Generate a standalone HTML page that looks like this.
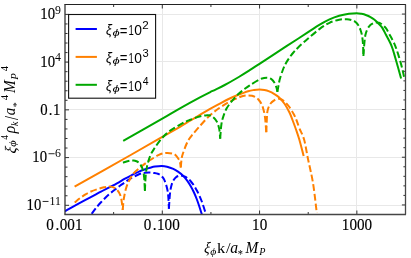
<!DOCTYPE html>
<html><head><meta charset="utf-8"><style>
html,body{margin:0;padding:0;background:#fff;}
body{width:411px;height:258px;overflow:hidden;position:relative;font-family:"Liberation Sans",sans-serif;}
</style></head><body>
<svg width="411" height="258" viewBox="0 0 411 258" style="position:absolute;left:0;top:0;will-change:transform">
<rect x="0" y="0" width="411" height="258" fill="#fff"/>
<line x1="65.0" x2="405.5" y1="14.5" y2="14.5" stroke="#e8e8e8" stroke-width="1"/>
<line x1="65.0" x2="405.5" y1="61.5" y2="61.5" stroke="#e8e8e8" stroke-width="1"/>
<line x1="65.0" x2="405.5" y1="109.5" y2="109.5" stroke="#e8e8e8" stroke-width="1"/>
<line x1="65.0" x2="405.5" y1="157.5" y2="157.5" stroke="#e8e8e8" stroke-width="1"/>
<line x1="65.0" x2="405.5" y1="205.5" y2="205.5" stroke="#e8e8e8" stroke-width="1"/>
<line y1="4.5" y2="214.5" x1="162.5" x2="162.5" stroke="#e8e8e8" stroke-width="1"/>
<line y1="4.5" y2="214.5" x1="259.5" x2="259.5" stroke="#e8e8e8" stroke-width="1"/>
<line y1="4.5" y2="214.5" x1="356.5" x2="356.5" stroke="#e8e8e8" stroke-width="1"/>
<clipPath id="c"><rect x="65.0" y="4.5" width="340.5" height="210.0"/></clipPath>
<g clip-path="url(#c)" fill="none" stroke-width="2" stroke-linejoin="round">
<path d="M91.70,213.80 C92.42,212.83 94.45,209.92 96.00,208.00 C97.55,206.08 98.87,204.53 101.00,202.30 C103.13,200.07 106.22,196.92 108.80,194.60 C111.38,192.28 114.63,189.87 116.50,188.40 C118.37,186.93 118.70,186.73 120.00,185.80 C121.30,184.87 122.68,183.93 124.30,182.80 C125.92,181.67 127.17,180.47 129.70,179.00 C132.23,177.53 136.95,175.03 139.50,174.00 C142.05,172.97 143.25,173.03 145.00,172.80 C146.75,172.57 148.50,172.57 150.00,172.60 C151.50,172.63 152.70,172.80 154.00,173.00 C155.30,173.20 156.63,173.37 157.80,173.80 C158.97,174.23 160.03,174.80 161.00,175.60 C161.97,176.40 162.82,177.28 163.60,178.60 C164.38,179.92 165.05,181.55 165.70,183.50 C166.35,185.45 167.05,187.88 167.50,190.30 C167.95,192.72 168.17,194.92 168.40,198.00 C168.63,201.08 168.82,207.00 168.90,208.80" stroke="#0000ff" stroke-dasharray="6.7 2.9"/>
<path d="M168.90,208.80 C169.02,207.00 169.35,201.08 169.60,198.00 C169.85,194.92 170.05,192.55 170.40,190.30 C170.75,188.05 171.22,186.12 171.70,184.50 C172.18,182.88 172.58,181.82 173.30,180.60 C174.02,179.38 175.02,178.02 176.00,177.20 C176.98,176.38 178.20,175.95 179.20,175.70 C180.20,175.45 181.03,175.53 182.00,175.70 C182.97,175.87 184.00,176.20 185.00,176.70 C186.00,177.20 187.02,177.90 188.00,178.70 C188.98,179.50 189.90,180.35 190.90,181.50 C191.90,182.65 193.03,184.13 194.00,185.60 C194.97,187.07 195.82,188.65 196.70,190.30 C197.58,191.95 198.48,193.72 199.30,195.50 C200.12,197.28 200.88,199.12 201.60,201.00 C202.32,202.88 202.93,204.80 203.60,206.80 C204.27,208.80 205.27,211.97 205.60,213.00" stroke="#0000ff" stroke-dasharray="6.7 2.9"/>
<path d="M64.90,211.30 C65.75,210.80 66.57,210.22 70.00,208.30 C73.43,206.38 80.33,202.57 85.50,199.80 C90.67,197.03 95.83,194.40 101.00,191.70 C106.17,189.00 112.50,185.78 116.50,183.60 C120.50,181.42 122.22,180.13 125.00,178.60 C127.78,177.07 130.78,175.62 133.20,174.40 C135.62,173.18 137.47,172.17 139.50,171.30 C141.53,170.43 143.65,169.78 145.40,169.20 C147.15,168.62 148.40,168.23 150.00,167.80 C151.60,167.37 153.05,166.90 155.00,166.60 C156.95,166.30 159.70,165.98 161.70,166.00 C163.70,166.02 165.07,166.22 167.00,166.70 C168.93,167.18 171.47,168.08 173.30,168.90 C175.13,169.72 176.37,170.47 178.00,171.60 C179.63,172.73 181.60,174.25 183.10,175.70 C184.60,177.15 185.70,178.52 187.00,180.30 C188.30,182.08 189.73,184.37 190.90,186.40 C192.07,188.43 193.03,190.40 194.00,192.50 C194.97,194.60 195.87,196.83 196.70,199.00 C197.53,201.17 198.15,202.95 199.00,205.50 C199.85,208.05 201.33,212.83 201.80,214.30" stroke="#0000ff"/>
<path d="M74.65,202.60 C75.54,201.87 78.19,199.57 80.00,198.20 C81.81,196.83 83.67,195.52 85.50,194.40 C87.33,193.28 88.93,192.40 91.00,191.50 C93.07,190.60 95.73,189.70 97.90,189.00 C100.07,188.30 102.18,187.70 104.00,187.30 C105.82,186.90 107.47,186.67 108.80,186.60 C110.13,186.53 110.97,186.63 112.00,186.90 C113.03,187.17 114.08,187.63 115.00,188.20 C115.92,188.77 116.73,189.40 117.50,190.30 C118.27,191.20 119.02,192.40 119.60,193.60 C120.18,194.80 120.62,195.95 121.00,197.50 C121.38,199.05 121.62,200.83 121.90,202.90 C122.18,204.97 122.57,208.73 122.70,209.90" stroke="#ff8000" stroke-dasharray="6.7 2.9"/>
<path d="M122.70,209.90 C122.83,208.42 123.20,203.48 123.50,201.00 C123.80,198.52 124.08,197.08 124.50,195.00 C124.92,192.92 125.45,190.42 126.00,188.50 C126.55,186.58 127.13,185.05 127.80,183.50 C128.47,181.95 129.03,180.90 130.00,179.20 C130.97,177.50 131.70,175.42 133.60,173.30 C135.50,171.18 138.80,168.60 141.40,166.50 C144.00,164.40 146.28,162.63 149.20,160.70 C152.12,158.77 155.98,156.20 158.90,154.90 C161.82,153.60 164.10,153.00 166.70,152.90 C169.30,152.80 172.55,153.32 174.50,154.30 C176.45,155.28 177.48,157.43 178.40,158.80 C179.32,160.17 179.60,161.05 180.00,162.50 C180.40,163.95 180.67,166.67 180.80,167.50" stroke="#ff8000" stroke-dasharray="6.7 2.9"/>
<path d="M180.80,167.50 C180.93,166.08 181.25,161.33 181.60,159.00 C181.95,156.67 182.08,156.00 182.90,153.50 C183.72,151.00 185.40,146.50 186.50,144.00 C187.60,141.50 188.48,140.08 189.50,138.50 C190.52,136.92 190.93,136.50 192.60,134.50 C194.27,132.50 196.73,129.57 199.50,126.50 C202.27,123.43 205.97,119.13 209.20,116.10 C212.43,113.07 215.67,110.60 218.90,108.30 C222.13,106.00 225.35,104.07 228.60,102.30 C231.85,100.53 236.00,98.75 238.40,97.70 C240.80,96.65 241.43,96.38 243.00,96.00 C244.57,95.62 246.30,95.43 247.80,95.40 C249.30,95.37 250.70,95.50 252.00,95.80 C253.30,96.10 254.57,96.63 255.60,97.20 C256.63,97.77 257.40,98.38 258.20,99.20 C259.00,100.02 259.77,101.13 260.40,102.10 C261.03,103.07 261.52,103.87 262.00,105.00 C262.48,106.13 262.88,107.40 263.30,108.90 C263.72,110.40 264.17,112.15 264.50,114.00 C264.83,115.85 265.00,116.95 265.30,120.00 C265.60,123.05 266.13,130.25 266.30,132.30" stroke="#ff8000" stroke-dasharray="6.7 2.9"/>
<path d="M266.30,132.30 C266.38,130.25 266.65,123.25 266.80,120.00 C266.95,116.75 267.00,114.63 267.20,112.80 C267.40,110.97 267.67,110.13 268.00,109.00 C268.33,107.87 268.70,107.00 269.20,106.00 C269.70,105.00 270.35,103.82 271.00,103.00 C271.65,102.18 272.27,101.70 273.10,101.10 C273.93,100.50 275.03,99.78 276.00,99.40 C276.97,99.02 277.98,98.78 278.90,98.80 C279.82,98.82 280.68,99.12 281.50,99.50 C282.32,99.88 282.62,100.02 283.80,101.10 C284.98,102.18 286.98,103.88 288.60,106.00 C290.22,108.12 292.20,111.47 293.50,113.80 C294.80,116.13 295.40,117.55 296.40,120.00 C297.40,122.45 298.22,125.25 299.50,128.50 C300.78,131.75 302.68,134.42 304.10,139.50 C305.52,144.58 306.52,151.75 308.00,159.00 C309.48,166.25 311.53,174.00 313.00,183.00 C314.47,192.00 316.17,208.00 316.80,213.00" stroke="#ff8000" stroke-dasharray="6.7 2.9"/>
<path d="M74.60,186.70 C83.95,181.42 116.30,163.17 130.70,155.00 C145.10,146.83 152.78,142.40 161.00,137.70 C169.22,133.00 175.22,129.58 180.00,126.80 C184.78,124.02 186.45,122.93 189.70,121.00 C192.95,119.07 196.25,117.13 199.50,115.20 C202.75,113.27 205.97,111.25 209.20,109.40 C212.43,107.55 215.67,105.83 218.90,104.10 C222.13,102.37 225.35,100.55 228.60,99.00 C231.85,97.45 235.15,96.10 238.40,94.80 C241.65,93.50 245.50,92.00 248.10,91.20 C250.70,90.40 252.10,90.28 254.00,90.00 C255.90,89.72 257.75,89.50 259.50,89.50 C261.25,89.50 262.88,89.68 264.50,90.00 C266.12,90.32 267.62,90.77 269.20,91.40 C270.78,92.03 272.38,92.83 274.00,93.80 C275.62,94.77 277.12,95.50 278.90,97.20 C280.68,98.90 282.92,101.40 284.70,104.00 C286.48,106.60 288.30,110.13 289.60,112.80 C290.90,115.47 291.43,117.22 292.50,120.00 C293.57,122.78 294.87,126.25 296.00,129.50 C297.13,132.75 298.02,135.07 299.30,139.50 C300.58,143.93 302.97,153.33 303.70,156.10" stroke="#ff8000"/>
<path d="M122.90,162.60 C124.03,162.28 127.93,161.03 129.70,160.70 C131.47,160.37 132.37,160.50 133.50,160.60 C134.63,160.70 135.63,160.97 136.50,161.30 C137.37,161.63 138.05,162.05 138.70,162.60 C139.35,163.15 139.85,163.78 140.40,164.60 C140.95,165.42 141.52,166.37 142.00,167.50 C142.48,168.63 142.93,169.65 143.30,171.40 C143.67,173.15 143.93,174.73 144.20,178.00 C144.47,181.27 144.78,188.83 144.90,191.00" stroke="#00a800" stroke-dasharray="6.7 2.9"/>
<path d="M144.90,191.00 C145.03,188.38 145.32,179.53 145.70,175.30 C146.08,171.07 146.45,168.85 147.20,165.60 C147.95,162.35 149.07,158.57 150.20,155.80 C151.33,153.03 152.07,151.92 154.00,149.00 C155.93,146.08 159.03,141.40 161.80,138.30 C164.57,135.20 167.18,132.88 170.60,130.40 C174.02,127.92 179.12,125.13 182.30,123.40 C185.48,121.67 186.83,121.15 189.70,120.00 C192.57,118.85 196.58,117.30 199.50,116.50 C202.42,115.70 205.37,115.35 207.20,115.20 C209.03,115.05 209.52,115.28 210.50,115.60 C211.48,115.92 212.30,116.48 213.10,117.10 C213.90,117.72 214.65,118.48 215.30,119.30 C215.95,120.12 216.47,120.88 217.00,122.00 C217.53,123.12 218.08,124.55 218.50,126.00 C218.92,127.45 219.22,128.58 219.50,130.70 C219.78,132.82 220.08,137.37 220.20,138.70" stroke="#00a800" stroke-dasharray="6.7 2.9"/>
<path d="M220.20,138.70 C220.37,136.57 220.77,129.33 221.20,125.90 C221.63,122.47 221.88,121.03 222.80,118.10 C223.72,115.17 225.08,111.25 226.70,108.30 C228.32,105.35 230.55,102.78 232.50,100.40 C234.45,98.02 236.48,95.82 238.40,94.00 C240.32,92.18 242.12,90.95 244.00,89.50 C245.88,88.05 247.12,86.97 249.70,85.30 C252.28,83.63 257.12,80.70 259.50,79.50 C261.88,78.30 262.72,78.38 264.00,78.10 C265.28,77.82 266.20,77.75 267.20,77.80 C268.20,77.85 269.18,78.08 270.00,78.40 C270.82,78.72 271.43,79.10 272.10,79.70 C272.77,80.30 273.43,81.12 274.00,82.00 C274.57,82.88 275.07,84.00 275.50,85.00 C275.93,86.00 276.28,86.87 276.60,88.00 C276.92,89.13 277.27,91.17 277.40,91.80" stroke="#00a800" stroke-dasharray="6.7 2.9"/>
<path d="M277.40,91.80 C277.58,90.77 278.08,87.77 278.50,85.60 C278.92,83.43 279.18,81.40 279.90,78.80 C280.62,76.20 281.87,72.47 282.80,70.00 C283.73,67.53 284.53,65.85 285.50,64.00 C286.47,62.15 287.35,60.73 288.60,58.90 C289.85,57.07 291.37,54.95 293.00,53.00 C294.63,51.05 295.88,49.62 298.40,47.20 C300.92,44.78 304.55,41.55 308.10,38.50 C311.65,35.45 316.13,31.52 319.70,28.90 C323.27,26.28 326.25,24.33 329.50,22.80 C332.75,21.27 336.28,20.30 339.20,19.70 C342.12,19.10 344.73,19.07 347.00,19.20 C349.27,19.33 351.38,20.03 352.80,20.50 C354.22,20.97 354.68,21.37 355.50,22.00 C356.32,22.63 357.07,23.47 357.70,24.30 C358.33,25.13 358.82,26.02 359.30,27.00 C359.78,27.98 360.20,29.03 360.60,30.20 C361.00,31.37 361.38,32.55 361.70,34.00 C362.02,35.45 362.27,36.90 362.50,38.90 C362.73,40.90 362.95,43.15 363.10,46.00 C363.25,48.85 363.35,54.33 363.40,56.00" stroke="#00a800" stroke-dasharray="6.7 2.9"/>
<path d="M363.40,56.00 C363.53,54.17 363.87,48.50 364.20,45.00 C364.53,41.50 364.87,37.63 365.40,35.00 C365.93,32.37 366.77,30.65 367.40,29.20 C368.03,27.75 368.55,27.12 369.20,26.30 C369.85,25.48 370.57,24.85 371.30,24.30 C372.03,23.75 372.80,23.32 373.60,23.00 C374.40,22.68 375.27,22.45 376.10,22.40 C376.93,22.35 377.78,22.48 378.60,22.70 C379.42,22.92 379.78,22.78 381.00,23.70 C382.22,24.62 384.48,26.40 385.90,28.20 C387.32,30.00 388.10,31.92 389.50,34.50 C390.90,37.08 392.85,40.38 394.30,43.70 C395.75,47.02 396.90,50.35 398.20,54.40 C399.50,58.45 401.03,63.82 402.10,68.00 C403.17,72.18 404.18,77.58 404.60,79.50" stroke="#00a800" stroke-dasharray="6.7 2.9"/>
<path d="M123.20,140.90 C129.50,137.32 151.53,124.83 161.00,119.40 C170.47,113.97 173.58,111.93 180.00,108.30 C186.42,104.67 194.17,100.45 199.50,97.60 C204.83,94.75 207.80,93.30 212.00,91.20 C216.20,89.10 220.23,87.37 224.70,85.00 C229.17,82.63 234.63,79.47 238.80,77.00 C242.97,74.53 246.25,72.40 249.70,70.20 C253.15,68.00 254.63,66.98 259.50,63.80 C264.37,60.62 272.42,55.32 278.90,51.10 C285.38,46.88 293.22,41.87 298.40,38.50 C303.58,35.13 306.45,33.20 310.00,30.90 C313.55,28.60 316.45,26.62 319.70,24.70 C322.95,22.78 326.25,20.88 329.50,19.40 C332.75,17.92 335.97,16.73 339.20,15.80 C342.43,14.87 345.98,14.23 348.90,13.80 C351.82,13.37 354.60,13.20 356.70,13.20 C358.80,13.20 359.88,13.47 361.50,13.80 C363.12,14.13 364.90,14.65 366.40,15.20 C367.90,15.75 369.20,16.38 370.50,17.10 C371.80,17.82 372.95,18.52 374.20,19.50 C375.45,20.48 376.70,21.68 378.00,23.00 C379.30,24.32 380.67,25.43 382.00,27.40 C383.33,29.37 384.62,32.20 386.00,34.80 C387.38,37.40 389.22,40.72 390.30,43.00 C391.38,45.28 391.83,46.60 392.50,48.50 C393.17,50.40 393.35,51.15 394.30,54.40 C395.25,57.65 397.07,63.97 398.20,68.00 C399.33,72.03 400.62,76.83 401.10,78.60" stroke="#00a800"/>
</g>
<path d="M65.0,205.30h4 M405.5,204.95h-3.6 M65.0,195.76h2.5 M405.5,195.41h-2.1 M65.0,186.21h2.5 M405.5,185.86h-2.1 M65.0,176.67h2.5 M405.5,176.32h-2.1 M65.0,167.12h2.5 M405.5,166.77h-2.1 M65.0,157.58h4 M405.5,157.23h-3.6 M65.0,148.03h2.5 M405.5,147.68h-2.1 M65.0,138.49h2.5 M405.5,138.14h-2.1 M65.0,128.94h2.5 M405.5,128.59h-2.1 M65.0,119.40h2.5 M405.5,119.05h-2.1 M65.0,109.85h4 M405.5,109.50h-3.6 M65.0,100.30h2.5 M405.5,99.95h-2.1 M65.0,90.76h2.5 M405.5,90.41h-2.1 M65.0,81.21h2.5 M405.5,80.86h-2.1 M65.0,71.67h2.5 M405.5,71.32h-2.1 M65.0,62.12h4 M405.5,61.77h-3.6 M65.0,52.58h2.5 M405.5,52.23h-2.1 M65.0,43.03h2.5 M405.5,42.68h-2.1 M65.0,33.49h2.5 M405.5,33.14h-2.1 M65.0,23.94h2.5 M405.5,23.59h-2.1 M65.0,14.40h4 M405.5,14.05h-3.6 M113.64,214.5v-2.5 M113.64,4.5v2.5 M162.29,214.5v-4 M162.29,4.5v4 M210.93,214.5v-2.5 M210.93,4.5v2.5 M259.57,214.5v-4 M259.57,4.5v4 M308.21,214.5v-2.5 M308.21,4.5v2.5 M356.86,214.5v-4 M356.86,4.5v4" stroke="#333" stroke-width="1" fill="none"/>
<path d="M64.4,4.5H406.0" stroke="#222" stroke-width="1.1" fill="none"/>
<path d="M64.4,214.5H406.0" stroke="#464646" stroke-width="1.3" fill="none"/>
<path d="M405.5,4.5V214.5" stroke="#464646" stroke-width="1.3" fill="none"/>
<path d="M65.0,4.5V214.5" stroke="#333" stroke-width="1.3" fill="none"/>
<rect x="68.6" y="14.5" width="87.0" height="83.7" fill="#fff" stroke="#111" stroke-width="1.1"/>
<line x1="75.6" x2="96.9" y1="29.0" y2="29.0" stroke="#0000ff" stroke-width="2"/>
<g transform="translate(105.95,34.70) scale(0.924,1)"><text x="0" y="0" font-family="Liberation Sans, sans-serif" font-size="14.2" font-style="italic" fill="#000">ξ</text></g>
<g transform="translate(112.58,36.20) scale(1.415,1)"><text x="0" y="0" font-family="Liberation Sans, sans-serif" font-size="9.2" font-style="italic" fill="#000">ϕ</text></g>
<g transform="translate(119.86,35.50) scale(0.955,1)"><text x="0" y="0" font-family="Liberation Sans, sans-serif" font-size="13.8" fill="#000">=</text></g>
<g transform="translate(128.48,34.70) scale(0.689,1)"><text x="0" y="0" font-family="Liberation Sans, sans-serif" font-size="13.8" fill="#000">1</text></g>
<g transform="translate(134.26,34.70) scale(1.000,1)"><text x="0" y="0" font-family="Liberation Sans, sans-serif" font-size="13.8" fill="#000">0</text></g>
<g transform="translate(142.31,29.20) scale(1.130,1)"><text x="0" y="0" font-family="Liberation Sans, sans-serif" font-size="10.3" fill="#000">2</text></g>
<line x1="75.6" x2="96.9" y1="56.9" y2="56.9" stroke="#ff8000" stroke-width="2"/>
<g transform="translate(105.95,62.60) scale(0.924,1)"><text x="0" y="0" font-family="Liberation Sans, sans-serif" font-size="14.2" font-style="italic" fill="#000">ξ</text></g>
<g transform="translate(112.58,64.10) scale(1.415,1)"><text x="0" y="0" font-family="Liberation Sans, sans-serif" font-size="9.2" font-style="italic" fill="#000">ϕ</text></g>
<g transform="translate(119.86,63.40) scale(0.955,1)"><text x="0" y="0" font-family="Liberation Sans, sans-serif" font-size="13.8" fill="#000">=</text></g>
<g transform="translate(128.48,62.60) scale(0.689,1)"><text x="0" y="0" font-family="Liberation Sans, sans-serif" font-size="13.8" fill="#000">1</text></g>
<g transform="translate(134.26,62.60) scale(1.000,1)"><text x="0" y="0" font-family="Liberation Sans, sans-serif" font-size="13.8" fill="#000">0</text></g>
<g transform="translate(142.47,57.10) scale(1.085,1)"><text x="0" y="0" font-family="Liberation Sans, sans-serif" font-size="10.3" fill="#000">3</text></g>
<line x1="75.6" x2="96.9" y1="84.8" y2="84.8" stroke="#00a800" stroke-width="2"/>
<g transform="translate(105.95,90.50) scale(0.924,1)"><text x="0" y="0" font-family="Liberation Sans, sans-serif" font-size="14.2" font-style="italic" fill="#000">ξ</text></g>
<g transform="translate(112.58,92.00) scale(1.415,1)"><text x="0" y="0" font-family="Liberation Sans, sans-serif" font-size="9.2" font-style="italic" fill="#000">ϕ</text></g>
<g transform="translate(119.86,91.30) scale(0.955,1)"><text x="0" y="0" font-family="Liberation Sans, sans-serif" font-size="13.8" fill="#000">=</text></g>
<g transform="translate(128.48,90.50) scale(0.689,1)"><text x="0" y="0" font-family="Liberation Sans, sans-serif" font-size="13.8" fill="#000">1</text></g>
<g transform="translate(134.26,90.50) scale(1.000,1)"><text x="0" y="0" font-family="Liberation Sans, sans-serif" font-size="13.8" fill="#000">0</text></g>
<g transform="translate(142.66,85.00) scale(1.021,1)"><text x="0" y="0" font-family="Liberation Sans, sans-serif" font-size="10.3" fill="#000">4</text></g>
<g transform="translate(55.10,19.15) scale(0.94,1)"><text x="0" y="0" text-anchor="end" font-family="Liberation Serif, serif" font-size="15.7" fill="#000" stroke="#000" stroke-width="0.15">10</text></g>
<g transform="translate(61.0,13.75) scale(0.97,1)"><text x="0" y="0" text-anchor="end" font-family="Liberation Serif, serif" font-size="12.2" fill="#000">9</text></g>
<g transform="translate(55.10,66.87) scale(0.94,1)"><text x="0" y="0" text-anchor="end" font-family="Liberation Serif, serif" font-size="15.7" fill="#000" stroke="#000" stroke-width="0.15">10</text></g>
<g transform="translate(61.0,61.47) scale(0.97,1)"><text x="0" y="0" text-anchor="end" font-family="Liberation Serif, serif" font-size="12.2" fill="#000">4</text></g>
<g transform="translate(60.3,114.60) scale(0.94,1)"><text x="0" y="0" text-anchor="end" font-family="Liberation Serif, serif" font-size="15.7" fill="#000" stroke="#000" stroke-width="0.15">0<tspan dx="1.2">.</tspan><tspan dx="0.6">1</tspan></text></g>
<g transform="translate(47.10,162.33) scale(0.94,1)"><text x="0" y="0" text-anchor="end" font-family="Liberation Serif, serif" font-size="15.7" fill="#000" stroke="#000" stroke-width="0.15">10</text></g>
<g transform="translate(61.0,156.93) scale(0.97,1)"><text x="0" y="0" text-anchor="end" font-family="Liberation Serif, serif" font-size="12.2" fill="#000">6</text></g>
<line x1="48.5" x2="54.6" y1="153.73" y2="153.73" stroke="#111" stroke-width="0.9"/>
<g transform="translate(41.30,210.05) scale(0.94,1)"><text x="0" y="0" text-anchor="end" font-family="Liberation Serif, serif" font-size="15.7" fill="#000" stroke="#000" stroke-width="0.15">10</text></g>
<g transform="translate(61.0,204.65) scale(0.97,1)"><text x="0" y="0" text-anchor="end" font-family="Liberation Serif, serif" font-size="12.2" fill="#000">11</text></g>
<line x1="42.6" x2="48.5" y1="201.45" y2="201.45" stroke="#111" stroke-width="0.9"/>
<g transform="translate(64.40,229.8) scale(0.965,1)"><text x="0" y="0" text-anchor="middle" font-family="Liberation Serif, serif" font-size="15.7" fill="#000" stroke="#000" stroke-width="0.15">0<tspan dx="1.6">.</tspan><tspan dx="0.5">001</tspan></text></g>
<g transform="translate(161.69,229.8) scale(0.965,1)"><text x="0" y="0" text-anchor="middle" font-family="Liberation Serif, serif" font-size="15.7" fill="#000" stroke="#000" stroke-width="0.15">0<tspan dx="1.6">.</tspan><tspan dx="0.5">100</tspan></text></g>
<g transform="translate(259.67,229.8) scale(0.965,1)"><text x="0" y="0" text-anchor="middle" font-family="Liberation Serif, serif" font-size="15.7" fill="#000" stroke="#000" stroke-width="0.15">10</text></g>
<g transform="translate(356.96,229.8) scale(0.965,1)"><text x="0" y="0" text-anchor="middle" font-family="Liberation Serif, serif" font-size="15.7" fill="#000" stroke="#000" stroke-width="0.15">1000</text></g>
<g transform="translate(203.84,253.20) scale(0.842,1) skewX(-9)"><text x="0" y="0" font-family="Liberation Serif, serif" font-size="16" font-style="italic" fill="#000">ξ</text></g>
<g transform="translate(210.23,255.20) scale(1.101,1)"><text x="0" y="0" font-family="Liberation Serif, serif" font-size="10.6" font-style="italic" fill="#000">ϕ</text></g>
<g transform="translate(216.99,252.70) scale(1.110,1)"><text x="0" y="0" font-family="Liberation Serif, serif" font-size="14.8" fill="#000">k</text></g>
<g transform="translate(226.00,252.70) scale(1.089,1)"><text x="0" y="0" font-family="Liberation Serif, serif" font-size="15.2" fill="#000">/</text></g>
<g transform="translate(230.23,252.70) scale(0.982,1)"><text x="0" y="0" font-family="Liberation Serif, serif" font-size="16" font-style="italic" fill="#000">a</text></g>
<g transform="translate(237.79,258.10) scale(0.868,1)"><text x="0" y="0" font-family="Liberation Serif, serif" font-size="12" fill="#000">*</text></g>
<g transform="translate(245.38,252.70) scale(0.938,1)"><text x="0" y="0" font-family="Liberation Serif, serif" font-size="16.4" font-style="italic" fill="#000">M</text></g>
<g transform="translate(259.35,255.20) scale(0.958,1)"><text x="0" y="0" font-family="Liberation Serif, serif" font-size="10.6" font-style="italic" fill="#000">P</text></g>
<g transform="translate(15.2,154) rotate(-90)">
<g transform="translate(-0.03,0.40) scale(0.969,1) skewX(-9)"><text x="0" y="0" font-family="Liberation Serif, serif" font-size="16" font-style="italic" fill="#000">ξ</text></g>
<g transform="translate(7.31,1.20) scale(1.181,1)"><text x="0" y="0" font-family="Liberation Serif, serif" font-size="10.6" font-style="italic" fill="#000">ϕ</text></g>
<g transform="translate(14.22,-6.80) scale(0.928,1)"><text x="0" y="0" font-family="Liberation Serif, serif" font-size="10.2" fill="#000">4</text></g>
<g transform="translate(20.80,0.00) scale(0.973,1)"><text x="0" y="0" font-family="Liberation Serif, serif" font-size="16" font-style="italic" fill="#000">ρ</text></g>
<g transform="translate(27.92,2.30) scale(0.940,1)"><text x="0" y="0" font-family="Liberation Serif, serif" font-size="10.4" font-style="italic" fill="#000">k</text></g>
<g transform="translate(34.00,2.60) scale(0.738,1)"><text x="0" y="0" font-family="Liberation Serif, serif" font-size="19.5" fill="#000">/</text></g>
<g transform="translate(38.85,0.00) scale(0.939,1)"><text x="0" y="0" font-family="Liberation Serif, serif" font-size="16" font-style="italic" fill="#000">a</text></g>
<g transform="translate(46.72,4.60) scale(0.902,1)"><text x="0" y="0" font-family="Liberation Serif, serif" font-size="11" fill="#000">*</text></g>
<g transform="translate(53.79,-6.80) scale(1.055,1)"><text x="0" y="0" font-family="Liberation Serif, serif" font-size="10.2" fill="#000">4</text></g>
<g transform="translate(60.88,0.00) scale(0.961,1)"><text x="0" y="0" font-family="Liberation Serif, serif" font-size="16" font-style="italic" fill="#000">M</text></g>
<g transform="translate(74.36,2.30) scale(1.006,1)"><text x="0" y="0" font-family="Liberation Serif, serif" font-size="10.6" font-style="italic" fill="#000">P</text></g>
<g transform="translate(82.79,-6.80) scale(1.033,1)"><text x="0" y="0" font-family="Liberation Serif, serif" font-size="10.2" fill="#000">4</text></g>
</g>
</svg>
</body></html>
